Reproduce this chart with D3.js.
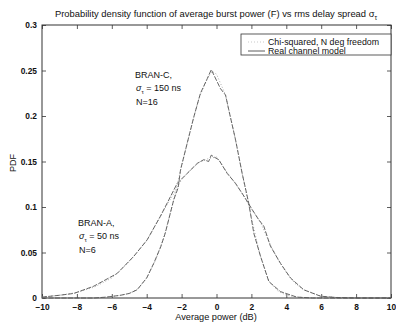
<!DOCTYPE html>
<html>
<head>
<meta charset="utf-8">
<script src="https://cdn.jsdelivr.net/npm/d3@7"></script>
<style>
  body { margin: 0; background: #fff; }
  text { font-family: "Liberation Sans", Arial, sans-serif; fill: #111; }
</style>
</head>
<body>
<div id="d3chart"></div>
<script>
// DATA ===========================================================================================
const xTicks = [-10, -8, -6, -4, -2, 0, 2, 4, 6, 8, 10]
const yTicks = [0, 0.05, 0.1, 0.15, 0.2, 0.25, 0.3]
const yTickLabels = ['0', '0.05', '0.1', '0.15', '0.2', '0.25', '0.3']
const seriesNames = ['Chi-squared, N deg freedom', 'Real channel model']

// BRAN-C, N=16
const branC_real_x = [-10, -7, -6.3, -5.5, -5, -4.55, -4, -3.6, -3.2, -2.94, -2.45, -2.2, -2.06, -1.68, -1.3, -0.92, -0.53, -0.3, 0.23, 0.52, 0.7, 1.09, 1.47, 1.85, 2.14, 2.52, 3.0, 3.67, 4.6, 5.5, 10]
const branC_real_y = [0, 0, 0.001, 0.003, 0.005, 0.009, 0.022, 0.038, 0.056, 0.071, 0.108, 0.121, 0.141, 0.170, 0.199, 0.225, 0.241, 0.251, 0.230, 0.223, 0.207, 0.174, 0.137, 0.104, 0.071, 0.046, 0.018, 0.007, 0.001, 0, 0]
const branC_chi_x = [-10, -7, -6.2, -5.5, -5, -4.5, -4, -3.5, -3, -2.5, -2, -1.5, -1, -0.5, -0.25, 0, 0.5, 1, 1.5, 2, 2.5, 3, 3.5, 4, 4.6, 5.5, 10]
const branC_chi_y = [0, 0, 0.001, 0.003, 0.005, 0.010, 0.022, 0.041, 0.068, 0.104, 0.145, 0.184, 0.220, 0.242, 0.249, 0.246, 0.224, 0.182, 0.134, 0.088, 0.047, 0.019, 0.008, 0.003, 0.001, 0, 0]

// BRAN-A, N=6
const branA_real_x = [-10, -9, -8.18, -7.03, -5.69, -4.73, -3.97, -3.21, -2.73, -2.25, -1.68, -1.1, -0.73, -0.45, -0.3, -0.15, 0.13, 0.61, 1.09, 1.57, 2.05, 2.42, 2.71, 3.09, 3.67, 4.24, 5.0, 5.96, 6.9, 8, 10]
const branA_real_y = [0.001, 0.003, 0.005, 0.013, 0.027, 0.046, 0.064, 0.090, 0.108, 0.126, 0.137, 0.148, 0.152, 0.150, 0.157, 0.155, 0.152, 0.137, 0.126, 0.112, 0.097, 0.086, 0.079, 0.057, 0.038, 0.022, 0.009, 0.002, 0.0005, 0, 0]
const branA_chi_x = [-10, -9, -8, -7, -6, -5, -4, -3, -2.5, -2, -1.5, -1, -0.5, 0, 0.5, 1, 1.5, 2, 2.5, 3, 3.5, 4, 4.5, 5, 6, 7, 8, 10]
const branA_chi_y = [0.001, 0.003, 0.006, 0.012, 0.022, 0.040, 0.063, 0.097, 0.113, 0.130, 0.140, 0.149, 0.153, 0.155, 0.141, 0.128, 0.114, 0.098, 0.084, 0.062, 0.043, 0.028, 0.016, 0.009, 0.002, 0.0005, 0, 0]

function draw() {
  const toPoints = (xs, ys) => xs.map((x, i) => ({x: x, y: ys[i]}))
  const curves = [
    {pts: toPoints(branC_chi_x, branC_chi_y), kind: 'chi'},
    {pts: toPoints(branA_chi_x, branA_chi_y), kind: 'chi'},
    {pts: toPoints(branC_real_x, branC_real_y), kind: 'real'},
    {pts: toPoints(branA_real_x, branA_real_y), kind: 'real'}
  ]

  // SET UP =========================================================================================
  const dimensions = {top: 25, bottom: 31, left: 42, right: 5}
  const width = 396
  const height = 329
  const ctr_width = width - dimensions.left - dimensions.right
  const ctr_height = height - dimensions.top - dimensions.bottom

  const root = d3.select('#d3chart')
    .append('svg')
    .attr('width', width)
    .attr('height', height)

  const svg = root.append('g')
    .attr('transform', `translate(${dimensions.left}, ${dimensions.top})`)

  // SCALES AND AXES ================================================================================
  const x = d3.scaleLinear().domain([-10, 10]).range([0, ctr_width])
  const y = d3.scaleLinear().domain([0, 0.3]).range([ctr_height, 0])

  const styleAxis = g => {
    g.select('.domain').remove()
    g.selectAll('line').attr('stroke', '#333').attr('stroke-width', 0.8)
    g.selectAll('text').attr('font-size', 8.4).attr('font-weight', 'bold').attr('fill', '#111')
  }

  svg.append('g')
    .attr('transform', `translate(0, ${ctr_height})`)
    .call(d3.axisBottom(x).tickValues(xTicks).tickSizeInner(-4).tickSizeOuter(0).tickPadding(6))
    .call(styleAxis)
  svg.append('g')
    .call(d3.axisTop(x).tickValues(xTicks).tickSizeInner(-4).tickSizeOuter(0).tickFormat(''))
    .call(styleAxis)
  svg.append('g')
    .call(d3.axisLeft(y).tickValues(yTicks).tickSizeInner(-4).tickSizeOuter(0).tickPadding(5)
      .tickFormat((d, i) => yTickLabels[i]))
    .call(styleAxis)
  svg.append('g')
    .attr('transform', `translate(${ctr_width}, 0)`)
    .call(d3.axisRight(y).tickValues(yTicks).tickSizeInner(-4).tickSizeOuter(0).tickFormat(''))
    .call(styleAxis)

  svg.append('rect')
    .attr('width', ctr_width)
    .attr('height', ctr_height)
    .attr('fill', 'none')
    .attr('stroke', '#333')
    .attr('stroke-width', 1)

  // MARKS ==========================================================================================
  const line = d3.line().x(d => x(d.x)).y(d => y(d.y))

  svg.selectAll('.curve')
    .data(curves)
    .join('path')
      .attr('class', 'curve')
      .attr('d', d => line(d.pts))
      .attr('fill', 'none')
      .attr('stroke', d => d.kind === 'chi' ? '#999' : '#555')
      .attr('stroke-width', d => d.kind === 'chi' ? 0.8 : 0.9)
      .attr('stroke-dasharray', d => d.kind === 'chi' ? '1,2' : '5,1.5')

  // TEXT ===========================================================================================
  root.append('text')
    .attr('x', 216).attr('y', 17)
    .attr('text-anchor', 'middle')
    .attr('font-size', 9.4)
    .text('Probability density function of average burst power (F) vs rms delay spread σ')
    .append('tspan')
      .attr('font-size', 6.5).attr('dy', 3).text('τ')

  root.append('text')
    .attr('x', 216).attr('y', 320)
    .attr('text-anchor', 'middle')
    .attr('font-size', 9.2)
    .text('Average power (dB)')

  root.append('text')
    .attr('transform', 'translate(16, 163) rotate(-90)')
    .attr('text-anchor', 'middle')
    .attr('font-size', 9)
    .text('PDF')

  const notes = [
    {x: 135, y: 78, lines: ['BRAN-C,', '150 ns', 'N=16']},
    {x: 78, y: 226, lines: ['BRAN-A,', '50 ns', 'N=6']}
  ]
  notes.forEach(n => {
    const g = root.append('g')
    g.append('text').attr('x', n.x).attr('y', n.y).attr('font-size', 9).text(n.lines[0])
    const s = g.append('text').attr('x', n.x + 1).attr('y', n.y + 13).attr('font-size', 9)
    s.append('tspan').attr('font-style', 'italic').text('σ')
    s.append('tspan').attr('font-size', 6).attr('dy', 3).text('τ')
    s.append('tspan').attr('dy', -3).text(' = ' + n.lines[1])
    g.append('text').attr('x', n.x + 1).attr('y', n.y + 27).attr('font-size', 9).text(n.lines[2])
  })

  // LEGEND =========================================================================================
  const legend = root.append('g')
  legend.append('rect')
    .attr('x', 241).attr('y', 34).attr('width', 150).attr('height', 21)
    .attr('fill', '#fff').attr('stroke', '#333').attr('stroke-width', 0.8)
  seriesNames.forEach((name, i) => {
    const ly = 42 + i * 9
    legend.append('line')
      .attr('x1', 248).attr('x2', 265).attr('y1', ly).attr('y2', ly)
      .attr('stroke', i === 0 ? '#bbb' : '#333')
      .attr('stroke-width', 0.8)
      .attr('stroke-dasharray', i === 0 ? '1,2' : null)
    legend.append('text')
      .attr('x', 268).attr('y', ly + 3)
      .attr('font-size', 8.8)
      .text(name)
  })
}

draw()
</script>
</body>
</html>
